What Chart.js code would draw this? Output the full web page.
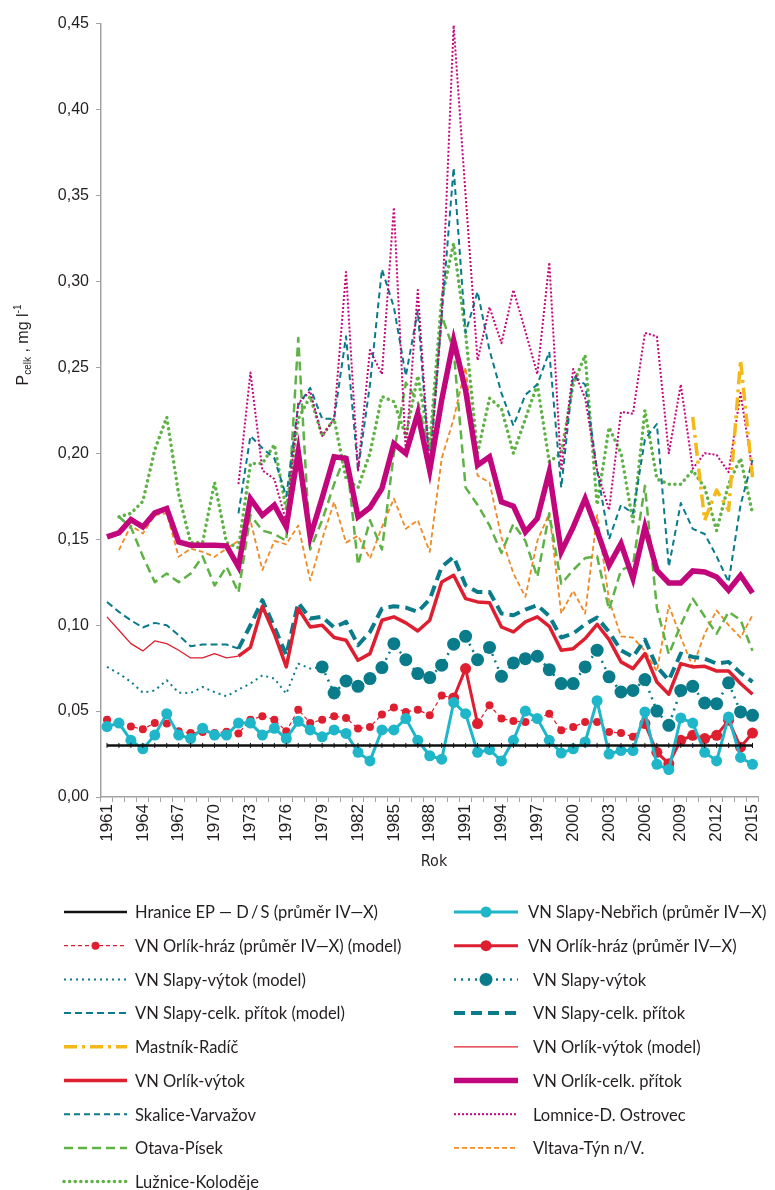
<!DOCTYPE html>
<html><head><meta charset="utf-8">
<script src="https://cdn.jsdelivr.net/npm/chart.js@4/dist/chart.umd.min.js"></script>
<style>html,body{margin:0;padding:0;background:#fff;}canvas{display:block;}</style>
</head><body>
<canvas id="c" width="775" height="1190"></canvas>
<script>
const years = ['1961','1962','1963','1964','1965','1966','1967','1968','1969','1970','1971','1972','1973','1974','1975','1976','1977','1978','1979','1980','1981','1982','1983','1984','1985','1986','1987','1988','1989','1990','1991','1992','1993','1994','1995','1996','1997','1998','1999','2000','2001','2002','2003','2004','2005','2006','2007','2008','2009','2010','2011','2012','2013','2014','2015'];
const tickYears = ['1961','1964','1967','1970','1973','1976','1979','1982','1985','1988','1991','1994','1997','2000','2003','2006','2009','2012','2015'];
const yTicks = [0,0.05,0.10,0.15,0.20,0.25,0.30,0.35,0.40,0.45];

// 1961-2015
const hranice = [0.03,0.03,0.03,0.03,0.03,0.03,0.03,0.03,0.03,0.03,0.03,0.03,0.03,0.03,0.03,0.03,0.03,0.03,0.03,0.03,0.03,0.03,0.03,0.03,0.03,0.03,0.03,0.03,0.03,0.03,0.03,0.03,0.03,0.03,0.03,0.03,0.03,0.03,0.03,0.03,0.03,0.03,0.03,0.03,0.03,0.03,0.03,0.03,0.03,0.03,0.03,0.03,0.03,0.03,0.03];
// 1961-2015
const slapyNebrich = [0.041,0.043,0.033,0.028,0.036,0.0485,0.036,0.034,0.040,0.036,0.036,0.043,0.043,0.036,0.040,0.034,0.044,0.039,0.035,0.039,0.037,0.026,0.021,0.039,0.039,0.0456,0.033,0.024,0.022,0.055,0.0485,0.026,0.0275,0.021,0.033,0.050,0.0456,0.033,0.0256,0.028,0.032,0.056,0.025,0.027,0.027,0.0495,0.019,0.016,0.046,0.043,0.026,0.021,0.0466,0.023,0.019];
// 1961-2006 (1991 not shown)
const orlikHrazModel = [0.045,0.043,0.041,0.0394,0.0431,0.0427,0.0382,0.0372,0.0378,0.0372,0.038,0.037,0.045,0.047,0.045,0.0382,0.0508,0.043,0.045,0.047,0.046,0.0398,0.0407,0.048,0.052,0.0495,0.0508,0.0475,0.059,0.0576,null,0.0427,0.0534,0.0456,0.0442,0.0437,0.0456,0.0485,0.0388,0.0407,0.0437,0.0437,0.0378,0.0372,0.035,0.0427];
// 1990-1992
const orlikHrazA = [0.0576,0.0747,0.0427];
// 2006-2015
const orlikHrazB = [0.0427,0.026,0.0194,0.033,0.0359,0.034,0.0359,0.0446,0.029,0.0372];
// 1961-1979
const slapyVytokModel = [0.0757,0.0718,0.067,0.0607,0.062,0.0679,0.0607,0.0605,0.064,0.061,0.0586,0.0625,0.066,0.0708,0.0689,0.0601,0.0776,0.0747,0.0757];
// 1979-2015
const slapyVytok = [0.0757,0.0605,0.0675,0.0644,0.0689,0.0753,0.0892,0.0799,0.0718,0.0695,0.0767,0.0889,0.0935,0.0799,0.087,0.0702,0.078,0.0805,0.0819,0.0741,0.066,0.066,0.0757,0.0854,0.0699,0.0611,0.062,0.0683,0.05,0.0417,0.062,0.0644,0.0547,0.0543,0.0664,0.0495,0.0475];
// 1961-1972
const slapyCelkModel = [0.1135,0.1077,0.1028,0.0986,0.1013,0.0999,0.0941,0.0877,0.0887,0.0887,0.0887,0.0863];
// 1972-2015
const slapyCelk = [0.0863,0.0999,0.1145,0.0989,0.0825,0.113,0.1038,0.1048,0.0986,0.1019,0.0883,0.096,0.1096,0.111,0.1102,0.1077,0.115,0.1339,0.1397,0.1232,0.1193,0.1193,0.1067,0.1057,0.109,0.1116,0.1052,0.0928,0.0951,0.1005,0.1044,0.096,0.0854,0.0815,0.0916,0.0757,0.068,0.0834,0.0815,0.0805,0.0776,0.0786,0.0722,0.067];
// 2010-2015
const mastnik = [0.2211,0.161,0.1785,0.1668,0.2541,0.186];
// 1961-1972
const orlikVytokModel = [0.1048,0.097,0.0892,0.085,0.0908,0.0892,0.0854,0.0809,0.0809,0.0834,0.0809,0.0819];
// 1972-2015
const orlikVytok = [0.0819,0.0871,0.111,0.095,0.0757,0.1096,0.0989,0.0999,0.0928,0.0912,0.0795,0.0834,0.1028,0.1048,0.1013,0.0966,0.1028,0.1251,0.129,0.1154,0.1135,0.113,0.0989,0.096,0.1019,0.1048,0.0993,0.0854,0.0863,0.0922,0.1005,0.0916,0.0786,0.0747,0.0834,0.0669,0.0598,0.0776,0.0757,0.076,0.0733,0.0733,0.066,0.0598];
// 1961-2015
const orlikCelk = [0.1513,0.1537,0.1614,0.1571,0.1653,0.1678,0.1484,0.1465,0.1465,0.1465,0.1461,0.1339,0.1736,0.1639,0.1698,0.1571,0.2008,0.1513,0.174,0.1979,0.197,0.163,0.1684,0.1795,0.2056,0.1998,0.2231,0.19,0.231,0.2657,0.2366,0.193,0.1979,0.1717,0.1692,0.1542,0.162,0.1892,0.1426,0.157,0.1736,0.155,0.1348,0.1474,0.1271,0.1571,0.1319,0.1245,0.1245,0.1315,0.1309,0.128,0.1203,0.129,0.1187];
// 1972-2015
const skalice = [0.165,0.21,0.203,0.197,0.175,0.228,0.238,0.22,0.22,0.268,0.19,0.24,0.307,0.285,0.245,0.283,0.19,0.28,0.366,0.27,0.294,0.26,0.235,0.216,0.234,0.24,0.259,0.18,0.245,0.24,0.19,0.15,0.17,0.165,0.208,0.217,0.134,0.171,0.156,0.153,0.14,0.125,0.17,0.196];
// 1972-2015
const lomnice = [0.182,0.247,0.19,0.185,0.16,0.229,0.236,0.21,0.22,0.3055,0.19,0.26,0.246,0.343,0.2,0.295,0.19,0.28,0.449,0.35,0.254,0.285,0.264,0.295,0.271,0.246,0.311,0.19,0.249,0.232,0.19,0.167,0.224,0.223,0.27,0.268,0.20,0.24,0.191,0.200,0.199,0.189,0.235,0.19];
// 1962-2015
const otava = [0.163,0.157,0.14,0.125,0.13,0.125,0.13,0.14,0.123,0.134,0.119,0.164,0.155,0.153,0.149,0.267,0.144,0.161,0.182,0.2,0.135,0.161,0.144,0.2,0.241,0.23,0.2,0.28,0.26,0.18,0.17,0.158,0.142,0.159,0.149,0.128,0.165,0.124,0.132,0.139,0.14,0.109,0.132,0.135,0.181,0.11,0.083,0.1,0.1154,0.105,0.095,0.1077,0.103,0.085];
// 1962-2015
const vltava = [0.1436,0.158,0.1533,0.164,0.165,0.1397,0.1445,0.1426,0.1397,0.1445,0.149,0.161,0.132,0.149,0.147,0.158,0.126,0.15,0.1717,0.148,0.152,0.1387,0.157,0.1736,0.156,0.161,0.1426,0.197,0.22,0.25,0.187,0.183,0.151,0.13,0.1164,0.149,0.165,0.1067,0.12,0.1067,0.164,0.1145,0.0935,0.0927,0.085,0.073,0.1115,0.093,0.0757,0.095,0.1086,0.1,0.0927,0.1057];
// 1962-2015
const luznice = [0.163,0.165,0.172,0.202,0.221,0.176,0.148,0.148,0.183,0.148,0.145,0.194,0.194,0.205,0.167,0.22,0.233,0.21,0.22,0.185,0.18,0.2,0.233,0.23,0.21,0.245,0.205,0.29,0.322,0.27,0.2,0.232,0.226,0.2,0.22,0.24,0.195,0.2,0.24,0.257,0.17,0.215,0.2,0.16,0.225,0.185,0.182,0.182,0.19,0.18,0.155,0.182,0.197,0.165];

function place(startYear, vals){
  const out = years.map(()=>null);
  const s = years.indexOf(String(startYear));
  vals.forEach((v,i)=>{ out[s+i] = v; });
  return out;
}
const orlikHrazMeas = place(1990, orlikHrazA);
place(2006, orlikHrazB).forEach((v,i)=>{ if(v!==null) orlikHrazMeas[i]=v; });

const TEAL='#0a7b8a', RED='#dd1f30', CYAN='#1fb6ca', MAG='#c2077c', GREEN='#5fb246', ORANGE='#f08a24', YEL='#f4b918';

const ds = {
  hranice:{label:'Hranice EP — D\u2009/\u2009S (průměr IV—X)', data:place(1961,hranice), borderColor:'#111', borderWidth:2.5, pointStyle:'line', pointRotation:90, pointRadius:2.5, pointBorderWidth:1, pointBorderColor:'#111', legendNoPoint:true},
  nebrich:{label:'VN Slapy-Nebřich (průměr IV—X)', data:place(1961,slapyNebrich), borderColor:CYAN, backgroundColor:CYAN, borderWidth:3, pointRadius:5.5, pointBorderWidth:0},
  hrazMeas:{label:'VN Orlík-hráz (průměr IV—X)', data:orlikHrazMeas, borderColor:RED, backgroundColor:RED, borderWidth:3, pointRadius:5.5, pointBorderWidth:0},
  hrazModel:{label:'VN Orlík-hráz (průměr IV—X) (model)', data:place(1961,orlikHrazModel), borderColor:RED, backgroundColor:RED, borderWidth:1.2, borderDash:[4,3], pointRadius:4, pointBorderWidth:0},
  vytokMeas:{label:'VN Slapy-výtok', data:place(1979,slapyVytok), borderColor:TEAL, backgroundColor:TEAL, borderWidth:2.5, borderDash:[2,5], pointRadius:6.5, pointBorderWidth:0},
  vytokModel:{label:'VN Slapy-výtok (model)', data:place(1961,slapyVytokModel), borderColor:TEAL, borderWidth:2, borderDash:[2,4], pointRadius:0},
  orlikCelk:{label:'VN Orlík-celk. přítok', data:place(1961,orlikCelk), borderColor:MAG, borderWidth:5.5, pointRadius:0, borderJoinStyle:'miter'},
  orlikVytok:{label:'VN Orlík-výtok', data:place(1972,orlikVytok), borderColor:RED, borderWidth:3.5, pointRadius:0},
  slapyCelk:{label:'VN Slapy-celk. přítok', data:place(1972,slapyCelk), borderColor:TEAL, borderWidth:4, borderDash:[11,6], pointRadius:0},
  orlikVytokModel:{label:'VN Orlík-výtok (model)', data:place(1961,orlikVytokModel), borderColor:RED, borderWidth:1.3, pointRadius:0},
  slapyCelkModel:{label:'VN Slapy-celk. přítok (model)', data:place(1961,slapyCelkModel), borderColor:TEAL, borderWidth:2, borderDash:[7,4], pointRadius:0},
  mastnik:{label:'Mastník-Radíč', data:place(2010,mastnik), borderColor:YEL, borderWidth:3.5, borderDash:[13,5,3,5], pointRadius:0},
  lomnice:{label:'Lomnice-D. Ostrovec', data:place(1972,lomnice), borderColor:MAG, borderWidth:2, borderDash:[2,2], pointRadius:0},
  skalice:{label:'Skalice-Varvažov', data:place(1972,skalice), borderColor:TEAL, borderWidth:2, borderDash:[6,4], pointRadius:0},
  luznice:{label:'Lužnice-Koloděje', data:place(1962,luznice), borderColor:GREEN, borderWidth:3.5, borderDash:[0.1,5.5], borderCapStyle:'round', pointRadius:0},
  otava:{label:'Otava-Písek', data:place(1962,otava), borderColor:GREEN, borderWidth:2.5, borderDash:[9,5], pointRadius:0},
  vltava:{label:'Vltava-Týn n/V.', data:place(1962,vltava), borderColor:ORANGE, borderWidth:1.8, borderDash:[5,3], pointRadius:0}
};
const drawOrder = ['hranice','nebrich','hrazMeas','hrazModel','vytokMeas','vytokModel','orlikCelk','orlikVytok','slapyCelk','orlikVytokModel','slapyCelkModel','mastnik','lomnice','skalice','luznice','otava','vltava'];
const datasets = drawOrder.map(k=>Object.assign({tension:0, spanGaps:false, fill:false, pointHoverRadius:0}, ds[k]));

const legendLeft = ['hranice','hrazModel','vytokModel','slapyCelkModel','mastnik','orlikVytok','skalice','otava','luznice'];
const legendRight = ['nebrich','hrazMeas','vytokMeas','slapyCelk','orlikVytokModel','orlikCelk','lomnice','vltava'];
const rightTextX = [528,528,533,533,533,533,533,533];

const TXT='#231f20';
const overlay = {
  id:'overlay',
  afterDraw(chart){
    const ctx = chart.ctx;
    ctx.save();
    // y title
    ctx.translate(23, 345);
    ctx.rotate(-Math.PI/2);
    ctx.fillStyle = TXT;
    ctx.textBaseline = 'alphabetic';
    const parts = [['P','16px "Liberation Sans"',0],['celk','10px "Liberation Sans"',3],[' , mg l','16px "Liberation Sans"',0],['-1','10px "Liberation Sans"',-7]];
    let w=0; parts.forEach(p=>{ctx.font=p[1]; w+=ctx.measureText(p[0]).width;});
    let x=-w/2;
    parts.forEach(p=>{ctx.font=p[1]; ctx.fillText(p[0], x, 5+p[2]); x+=ctx.measureText(p[0]).width;});
    ctx.restore();
    // x title
    ctx.save();
    ctx.fillStyle=TXT; ctx.font='16px "DejaVu Sans Condensed", "Liberation Sans"'; ctx.textAlign='center'; ctx.textBaseline='middle';
    ctx.fillText('Rok', 434, 862);
    ctx.restore();
    // legend
    const rowY = i => 912 + i*33.7;
    const drawItem = (key, x0, x1, tx, y) => {
      const d = ds[key];
      ctx.save();
      ctx.strokeStyle = d.borderColor;
      ctx.lineWidth = d.borderWidth;
      ctx.setLineDash(d.borderDash||[]);
      ctx.lineCap = d.borderCapStyle || 'butt';
      ctx.beginPath(); ctx.moveTo(x0,y); ctx.lineTo(x1,y); ctx.stroke();
      ctx.setLineDash([]);
      if (d.pointRadius>0 && !d.legendNoPoint){
        ctx.fillStyle = d.backgroundColor;
        ctx.beginPath(); ctx.arc((x0+x1)/2, y, d.pointRadius, 0, Math.PI*2); ctx.fill();
      }
      ctx.fillStyle = TXT;
      ctx.font = '16.5px Lato';
      ctx.textBaseline='middle';
      ctx.fillText(d.label, tx, y+1);
      ctx.restore();
    };
    legendLeft.forEach((k,i)=>drawItem(k, 64, 127, 135, rowY(i)));
    legendRight.forEach((k,i)=>drawItem(k, 454, 518, rightTextX[i], rowY(i)));
  }
};

new Chart(document.getElementById('c'), {
  type:'line',
  data:{labels:years, datasets},
  options:{
    responsive:false, animation:false, devicePixelRatio:1,
    layout:{padding:{left:0,right:11,top:23.5,bottom:0}},
    plugins:{legend:{display:false}, tooltip:{enabled:false}},
    elements:{line:{borderJoinStyle:'round'}},
    scales:{
      x:{
        type:'category', offset:true,
        grid:{offset:true, drawOnChartArea:false, tickLength:5, color:'#a3a3a3', lineWidth:1},
        border:{color:'#a3a3a3', width:1.5},
        ticks:{autoSkip:false, maxRotation:90, minRotation:90, padding:2, color:TXT, font:{family:'"Liberation Sans"', size:17},
          callback:function(v,i){ const l = years[i]; return tickYears.includes(l) ? l : ''; }},
        afterFit(s){ s.height = 1190 - 797; }
      },
      y:{
        min:0, max:0.45,
        afterBuildTicks(s){ s.ticks = yTicks.map(v=>({value:v})); },
        grid:{drawOnChartArea:false, tickLength:5, color:'#a3a3a3'},
        border:{color:'#a3a3a3', width:1.5},
        ticks:{padding:7, color:TXT, font:{family:'"Liberation Sans"', size:16},
          callback:v=>v.toFixed(2).replace('.',',')},
        afterFit(s){ s.width = 101; }
      }
    }
  },
  plugins:[overlay]
});
</script>
</body></html>
